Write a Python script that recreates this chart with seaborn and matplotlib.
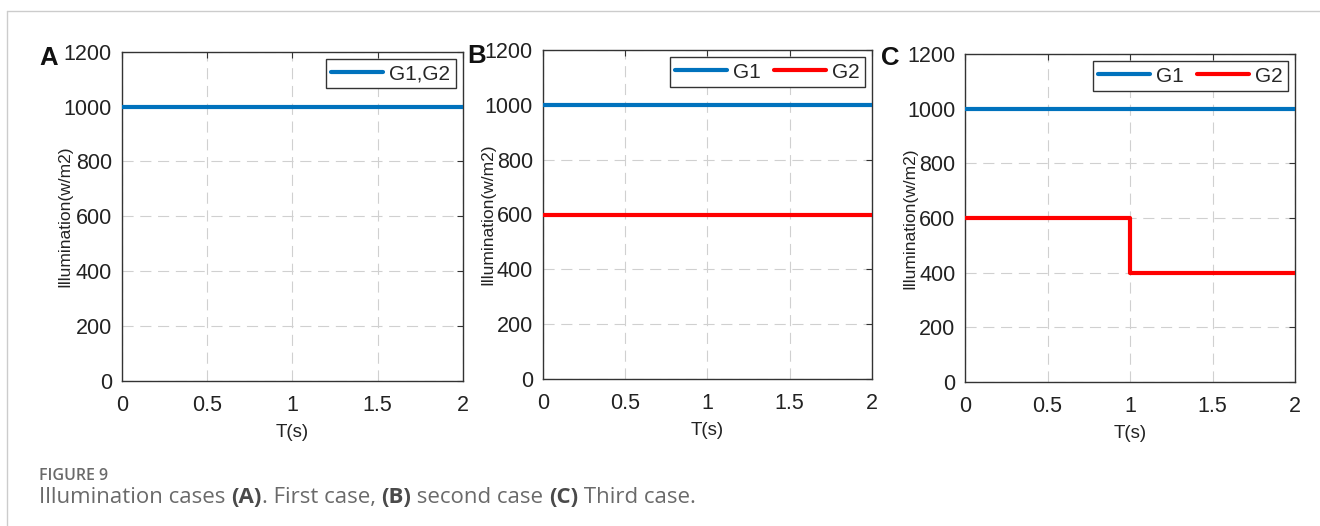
import matplotlib
matplotlib.use("Agg")
import matplotlib.pyplot as plt
import seaborn as sns
import pandas as pd
from matplotlib.lines import Line2D

# ---- data ----
t = [0, 1, 2]
caseA_G1G2 = [1000, 1000, 1000]
caseB_G1 = [1000, 1000, 1000]
caseB_G2 = [600, 600, 600]
caseC_G1 = [1000, 1000, 1000]
caseC_G2 = [600, 400, 400]
xticks = [0, 0.5, 1, 1.5, 2]
xticklabels = ["0", "0.5", "1", "1.5", "2"]
yticks = [0, 200, 400, 600, 800, 1000, 1200]
panel_labels = ["A", "B", "C"]

sns.set_theme(style="white")
plt.rcParams['font.family'] = ['Liberation Sans', 'DejaVu Sans']

BLUE = "#0072BD"
RED = "#FF0000"
SPINE = "#333333"

fig = plt.figure(figsize=(13.2, 5.26), dpi=100)
W, H = 1320, 526

def axrect(l, t_, r, b):
    return [l / W, 1 - b / H, (r - l) / W, (b - t_) / H]

axA = fig.add_axes(axrect(121.7, 51.7, 463, 380.7))
axB = fig.add_axes(axrect(542.7, 50.0, 872, 379.0))
axC = fig.add_axes(axrect(965, 54.0, 1295, 382.0))

series = [
    (axA, [(caseA_G1G2, BLUE, "G1,G2")]),
    (axB, [(caseB_G1, BLUE, "G1"), (caseB_G2, RED, "G2")]),
    (axC, [(caseC_G1, BLUE, "G1"), (caseC_G2, RED, "G2")]),
]

for ax, lines in series:
    for vals, col, lab in lines:
        df = pd.DataFrame({"t": t, "v": vals})
        sns.lineplot(data=df, x="t", y="v", ax=ax, color=col, lw=3.0,
                     drawstyle="steps-post", label=lab, zorder=3)
    ax.set_xlim(0, 2)
    ax.set_ylim(0, 1200)
    ax.set_xticks(xticks)
    ax.set_xticklabels(xticklabels)
    ax.set_yticks(yticks)
    ax.grid(True, color="#d0d0d0", linestyle=(0, (10, 6)), linewidth=0.8, zorder=0)
    ax.set_axisbelow(True)
    for s in ax.spines.values():
        s.set_visible(True)
        s.set_color(SPINE)
        s.set_linewidth(1.0)
    ax.tick_params(axis="both", direction="in", length=4, width=0.8, color=SPINE,
                   top=True, right=True, labelsize=15.5, labelcolor="#222222")
    ax.tick_params(axis="x", pad=10)
    ax.tick_params(axis="y", pad=7)
    ax.set_xlabel("T(s)", fontsize=13.5, color="#222222", labelpad=6)
    ax.set_ylabel("Illumination(w/m2)", fontsize=12.5, color="#222222")
    ax.yaxis.set_label_coords(-0.145, 0.5)
    leg = ax.legend(loc="upper right", ncol=len(lines), fontsize=15, frameon=True,
                    fancybox=False, framealpha=1, edgecolor=SPINE,
                    handlelength=2.5, handletextpad=0.3, columnspacing=0.6,
                    borderpad=0.25, borderaxespad=0.35)
    leg.get_frame().set_linewidth(1.0)

# panel letters
for lab, x, yb in zip(panel_labels, [39, 467, 881], [65, 63, 65]):
    fig.text(x / W, 1 - yb / H, lab, fontsize=18.5, fontweight="bold",
             va="baseline", ha="left", color="#111111")

# page frame lines
fig.add_artist(Line2D([7 / W, 1], [1 - 10.5 / H, 1 - 10.5 / H], color="#cccccc", lw=1))
fig.add_artist(Line2D([7 / W, 7 / W], [0, 1 - 10.5 / H], color="#cccccc", lw=1))

# caption
cap_font = ['Open Sans', 'DejaVu Sans']
fig.text(39 / W, 1 - 480.5 / H, "FIGURE 9", fontsize=11.5, family=cap_font,
         fontweight="semibold", color="#6a6a6a", va="baseline", ha="left")
pieces = [("Illumination cases ", "normal", "#6a6a6a"), ("(A)", "bold", "#4a4a4a"),
          (". First case, ", "normal", "#6a6a6a"), ("(B)", "bold", "#4a4a4a"),
          (" second case ", "normal", "#6a6a6a"), ("(C)", "bold", "#4a4a4a"),
          (" Third case.", "normal", "#6a6a6a")]
prev = fig.text(39 / W, 1 - 503 / H, pieces[0][0], fontsize=16, family=cap_font,
                fontweight=pieces[0][1], color=pieces[0][2], va="baseline", ha="left")
for txt, wt, col in pieces[1:]:
    new = matplotlib.text.Annotation(txt, xy=(1, 0), xycoords=prev, fontsize=16,
                                     family=cap_font, fontweight=wt, color=col,
                                     va="bottom", ha="left", annotation_clip=False)
    fig.add_artist(new)
    prev = new

fig.savefig("out.png", dpi=100)
